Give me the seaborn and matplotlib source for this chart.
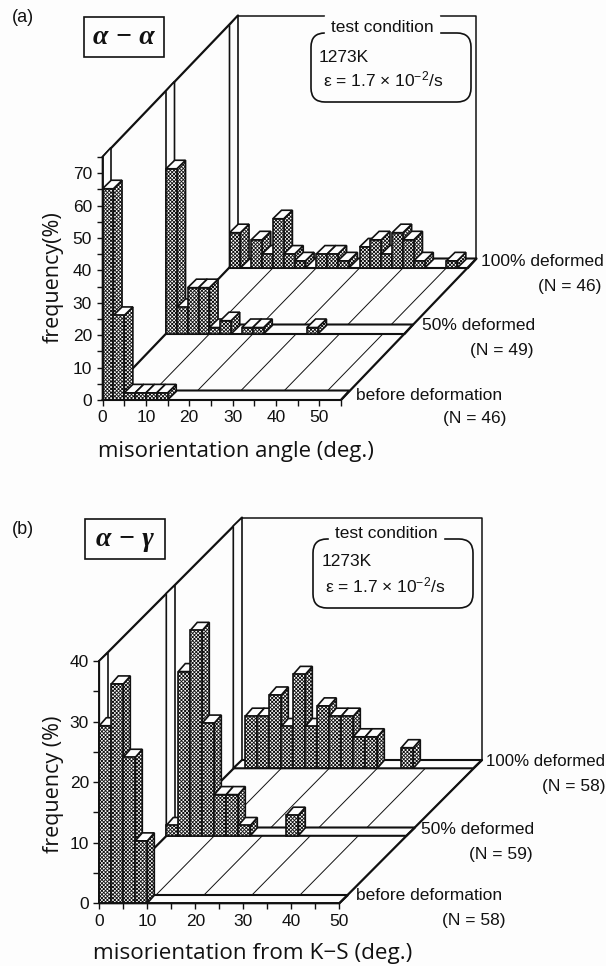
import numpy as np
import pandas as pd
import matplotlib
matplotlib.use("Agg")
import matplotlib.pyplot as plt
import seaborn as sns
from matplotlib.patches import Polygon, Rectangle, FancyBboxPatch
from matplotlib.transforms import Affine2D

# ---------- data (frequency, % per 2.5 deg bin) ----------
a_bins = [0, 2.5, 5, 7.5, 10, 12.5, 15, 17.5, 20, 22.5, 25, 27.5, 30, 32.5, 35, 37.5, 40, 42.5, 45, 47.5, 50, 52.5]
a_before = [65.2, 26.1, 2.2, 2.2, 2.2, 2.2, 0, 0, 0, 0, 0, 0, 0, 0, 0, 0, 0, 0, 0, 0, 0, 0]
a_50 = [51.0, 8.2, 14.3, 14.3, 2.0, 4.1, 0, 2.0, 2.0, 0, 0, 0, 0, 2.0, 0, 0, 0, 0, 0, 0, 0, 0]
a_100 = [10.9, 0, 8.7, 4.3, 15.2, 4.3, 2.2, 0, 4.3, 4.3, 2.2, 0, 6.5, 8.7, 4.3, 10.9, 8.7, 2.2, 0, 0, 2.2, 0]

b_bins = [0, 2.5, 5, 7.5, 10, 12.5, 15, 17.5, 20, 22.5, 25, 27.5, 30, 32.5, 35, 37.5, 40, 42.5, 45, 47.5]
b_before = [29.3, 36.2, 24.1, 10.3, 0, 0, 0, 0, 0, 0, 0, 0, 0, 0, 0, 0, 0, 0, 0, 0]
b_50 = [1.7, 27.1, 33.9, 18.6, 6.8, 6.8, 1.7, 0, 0, 0, 3.4, 0, 0, 0, 0, 0, 0, 0, 0, 0]
b_100 = [0, 8.6, 8.6, 12.1, 6.9, 15.5, 6.9, 10.3, 8.6, 8.6, 5.2, 5.2, 0, 0, 3.4, 0, 0, 0, 0, 0]

a_xticklabels = ["0", "10", "20", "30", "40", "50"]
b_xticklabels = ["0", "10", "20", "30", "40", "50"]

W, H = 606, 966
BG = "#fdfdfd"
sns.set_theme(style="ticks")
plt.rcParams["font.family"] = ["Liberation Sans", "DejaVu Sans"]
plt.rcParams["mathtext.default"] = "regular"
plt.rcParams["hatch.linewidth"] = 0.62
plt.rcParams["hatch.color"] = "black"

fig = plt.figure(figsize=(W / 100, H / 100), dpi=100, facecolor=BG)
PX = Affine2D().scale(1 / W, -1 / H).translate(0, 1) + fig.transFigure
INK = "#111111"
HATCH = "xxxxxxxxx"


def ftext(x, y, s, size=12.5, **kw):
    kw.setdefault("va", "center")
    kw.setdefault("color", INK)
    return fig.text(x, y, s, transform=PX, fontsize=size, **kw)


def panel(bins, series, x0, y0, xmax, ymax, sx, sy, ldx, ldy, sdx, sdy, bdx, bdy, yticks, yminor, xlabels):
    ax = fig.add_axes([x0 / W, 1 - y0 / H, xmax * sx / W, ymax * sy / H])
    ax.patch.set_alpha(0)
    Lx, Ly = ldx / sx, ldy / sy      # layer offset in data units
    Sx, Sy = sdx / sx, sdy / sy      # floor strip depth
    Bx, By = bdx / sx, bdy / sy      # bar depth

    # walls
    cx, cy = 2 * Lx + Sx, 2 * Ly + Sy
    ax.plot([0, cx], [ymax, ymax + cy], color=INK, lw=1.6, clip_on=False, zorder=3)
    ax.plot([cx, cx + xmax, cx + xmax], [ymax + cy, ymax + cy, cy], color=INK, lw=1.1, clip_on=False, zorder=3)
    ax.plot([0, cx], [0, cy], color=INK, lw=1.6, clip_on=False, zorder=5)
    ax.plot([xmax, xmax + cx], [0, cy], color=INK, lw=1.6, clip_on=False, zorder=3000)

    # floor grid lines between rows
    for g in range(10, int(xmax) + 1, 10):
        for L in range(2):
            ax.plot([g + L * Lx + Sx, g + (L + 1) * Lx], [L * Ly + Sy, (L + 1) * Ly],
                    color=INK, lw=0.7, clip_on=False, zorder=4)

    # rows, back to front
    for layer, vals in sorted(enumerate(series), key=lambda t: -t[0]):
        base = {2: 10, 1: 1000, 0: 2000}[layer]
        ox, oy = layer * Lx, layer * Ly
        # white wall strip and floor strip of this row
        ax.add_patch(Polygon([(ox, oy), (ox + Sx, oy + Sy), (ox + Sx, oy + Sy + ymax), (ox, oy + ymax)],
                             closed=True, fc=BG, ec=INK, lw=1.2, clip_on=False, zorder=6))
        ax.add_patch(Polygon([(ox, oy), (ox + xmax, oy), (ox + xmax + Sx, oy + Sy), (ox + Sx, oy + Sy)],
                             closed=True, fc=BG, ec=INK, lw=1.5, clip_on=False, zorder=base - 1))
        df = pd.DataFrame({"bin": bins, "freq": vals})
        df = df[df["freq"] > 0].copy()
        df["centre"] = df["bin"] + 1.25
        n0 = len(ax.patches)
        sns.barplot(data=df, x="centre", y="freq", native_scale=True, width=1.0, ax=ax,
                    color="white", saturation=1, edgecolor=INK, linewidth=1.2, hatch=HATCH, legend=False)
        shift = Affine2D().translate(ox, oy) + ax.transData
        new = [p for p in ax.patches[n0:] if p.get_hatch() == HATCH]
        for i, p in enumerate(new):
            xl, h = p.get_x(), p.get_height()
            xr = xl + p.get_width()
            p.set_facecolor("white")
            p.set_edgecolor(INK)
            p.set_transform(shift)
            p.set_clip_on(False)
            p.set_zorder(base + 3 * i + 2)
            ax.add_patch(Polygon([(xr + ox, oy), (xr + Bx + ox, By + oy), (xr + Bx + ox, h + By + oy), (xr + ox, h + oy)],
                                 closed=True, fc="white", ec=INK, lw=1.2, hatch=HATCH,
                                 clip_on=False, zorder=base + 3 * i))
            ax.add_patch(Polygon([(xl + ox, h + oy), (xr + ox, h + oy), (xr + Bx + ox, h + By + oy), (xl + Bx + ox, h + By + oy)],
                                 closed=True, fc=BG, ec=INK, lw=1.2, clip_on=False, zorder=base + 3 * i + 1))

    ax.set_xlim(0, xmax)
    ax.set_ylim(0, ymax)
    sns.despine(ax=ax)
    for s in ("left", "bottom"):
        ax.spines[s].set_linewidth(1.3)
        ax.spines[s].set_color(INK)
        ax.spines[s].set_zorder(4000)
    ax.set_xticks([i * 10 for i in range(len(xlabels))])
    ax.set_xticklabels(xlabels)
    ax.set_xticks(np.arange(5, xmax + 0.1, 10), minor=True)
    ax.set_yticks(yticks)
    ax.set_yticklabels([str(v) for v in yticks])
    ax.set_yticks(yminor, minor=True)
    ax.tick_params(axis="both", which="both", direction="out", width=1.0, color=INK,
                   labelsize=12.5, labelcolor=INK, length=4.5, pad=3)
    ax.set_xlabel("")
    ax.set_ylabel("")
    return ax


# ---------- panel (a) ----------
panel(a_bins, [a_before, a_50, a_100], 102.5, 400, 55, 75, 4.336, 3.24, 63.5, 66, 8.5, 9.5, 8.7, 8.5,
      [0, 10, 20, 30, 40, 50, 60, 70], [5, 15, 25, 35, 45, 55, 65, 75], a_xticklabels)
# ---------- panel (b) ----------
panel(b_bins, [b_before, b_50, b_100], 99.3, 903.3, 50, 40, 4.8, 6.06, 67, 67.5, 8.7, 8.3, 7.0, 8.0,
      [0, 10, 20, 30, 40], [5, 15, 25, 35], b_xticklabels)

# ---------- annotations ----------
ftext(12, 18, "(a)", 13)
ftext(12, 530, "(b)", 13)
ftext(53, 277, "frequency(%)", 15.5, rotation=90, ha="center", family="Open Sans")
ftext(53, 784, "frequency (%)", 15.5, rotation=90, ha="center", family="Open Sans")
ftext(97.6, 452, "misorientation angle (deg.)", 15.9, family="Open Sans")
ftext(93, 954, "misorientation from K\u2212S (deg.)", 16.2, family="Open Sans")

for (x, y, s, ha, size) in [(480.6, 261.7, "100% deformed", "left", 12.5), (601, 286.7, "(N = 46)", "right", 12.5),
                            (422, 326, "50% deformed", "left", 12.5), (534, 350.7, "(N = 49)", "right", 12.5),
                            (356, 395, "before deformation", "left", 12.5), (506, 419, "(N = 46)", "right", 12.5),
                            (485.5, 761.7, "100% deformed", "left", 12.1), (605, 786, "(N = 58)", "right", 12.5),
                            (421, 830, "50% deformed", "left", 12.5), (533, 855, "(N = 59)", "right", 12.5),
                            (356, 895, "before deformation", "left", 12.5), (506, 920, "(N = 58)", "right", 12.5)]:
    ftext(x, y, s, size, ha=ha)

for (x, y, sym) in [(84, 17, "\u03b1 \u2212 \u03b1"), (85, 519, "\u03b1 \u2212 \u03b3")]:
    fig.add_artist(Rectangle((x, y), 80, 40, transform=PX, fc=BG, ec=INK, lw=1.2))
    ftext(x + 40, y + 20, sym, 20, ha="center", family="Liberation Serif", style="italic", weight="bold")

for (top, left, tx, lx1, ty1, lx2, ty2) in [(33, 311, 331, 319, 57, 323, 79), (539, 313, 335, 322, 562, 325, 585)]:
    fig.add_artist(FancyBboxPatch((left + 14, top + 14), 160 - 28, 69 - 28, transform=PX,
                                  boxstyle="round,pad=14,rounding_size=14", fc=BG, ec=INK, lw=1.2))
    ftext(tx, top - 5, "test condition", 12.5, backgroundcolor=BG)
    ftext(lx1, ty1, "1273K", 12.5)
    ftext(lx2, ty2, "\u03b5 = 1.7 \u00d7 10$^{-2}$/s", 12.5)

fig.savefig("out.png", dpi=100, facecolor=BG)
